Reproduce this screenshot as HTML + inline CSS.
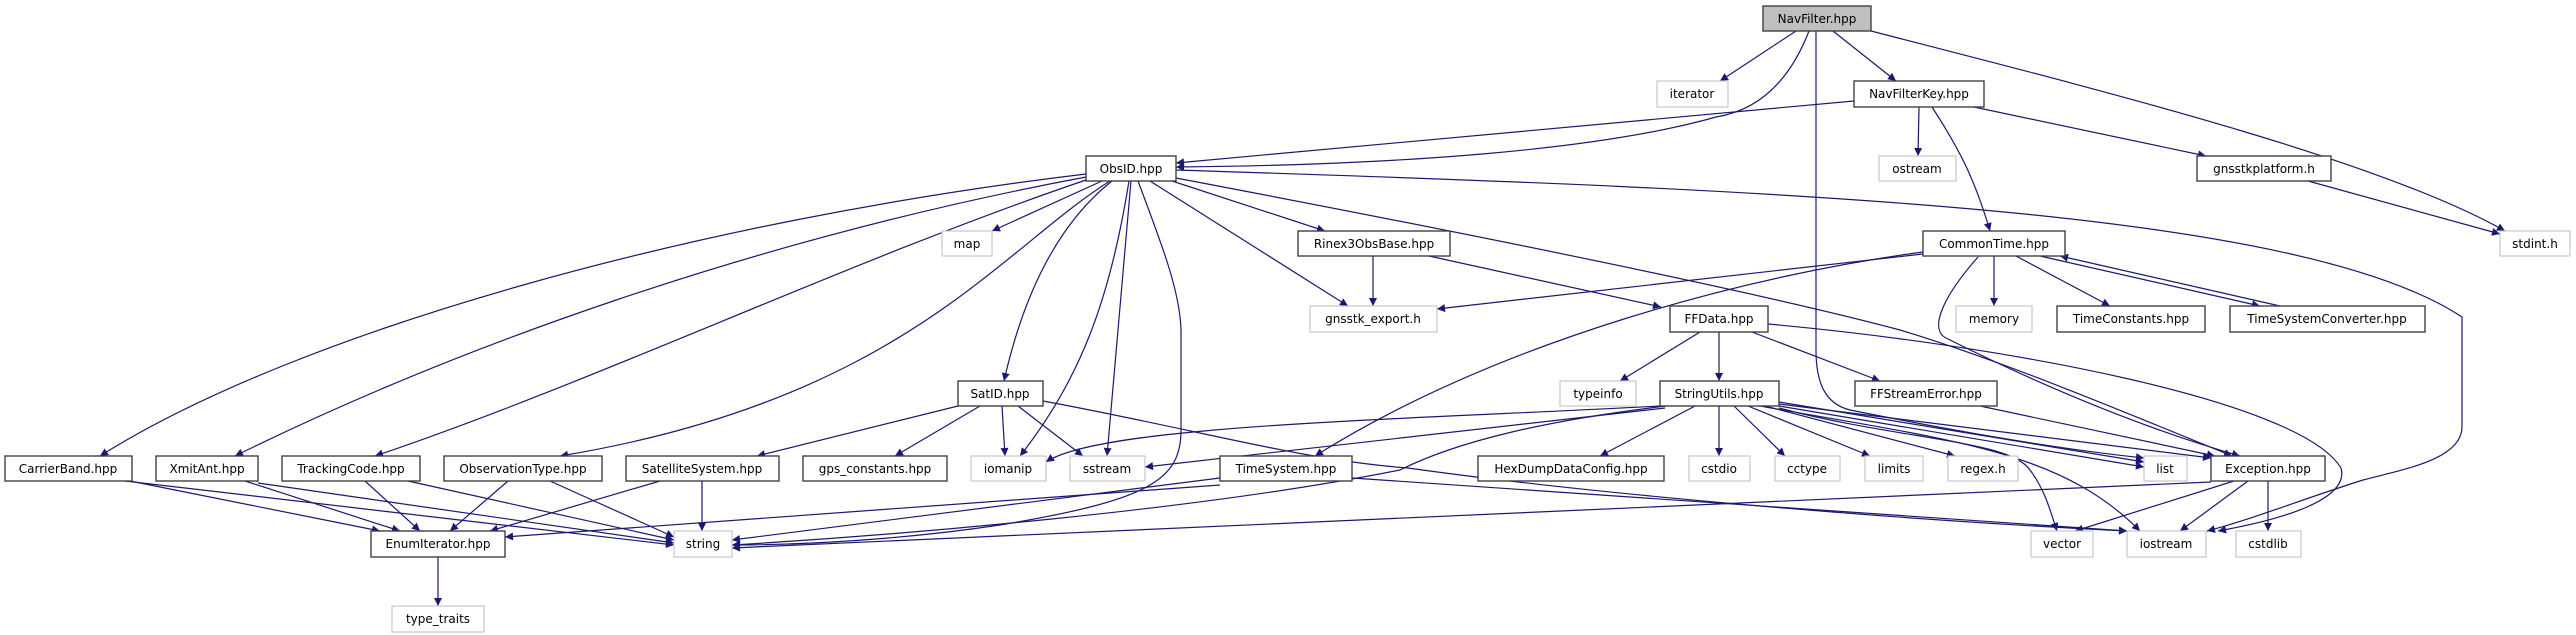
<!DOCTYPE html>
<html><head><meta charset="utf-8"><style>
html,body{margin:0;padding:0;background:#fff;}
svg{display:block;}
text{font-family:"DejaVu Sans","Liberation Sans",sans-serif;font-size:12px;fill:#000;text-anchor:middle;}
.e{fill:none;stroke:#191970;stroke-width:1.2;marker-end:url(#a);}
.n{fill:#fff;stroke:#404040;stroke-width:1.4;}
.g{fill:#fff;stroke:#c8c8c8;stroke-width:1.2;}
</style></head><body>
<svg width="2576" height="635" viewBox="0 0 2576 635" xmlns="http://www.w3.org/2000/svg">
<defs><marker id="a" viewBox="0 0 10 10" refX="10" refY="5" markerWidth="10" markerHeight="8" markerUnits="userSpaceOnUse" orient="auto"><path d="M0,0 L10,5 L0,10 z" fill="#191970"/></marker></defs>
<g>
<path class="e" d="M1796,31 L1720,81"/>
<path class="e" d="M1809,31 C1790,80 1760,110 1716,117 C1600,150 1400,165 1176,167"/>
<path class="e" d="M1833,31 L1896,81"/>
<path class="e" d="M1871,31 C2100,90 2380,160 2505,231"/>
<path class="e" d="M1816,31 L1816,350 C1816,390 1830,405 1850,410 C1950,430 2050,448 2144,458"/>
<path class="e" d="M1919,107 L1918,156"/>
<path class="e" d="M1932,107 C1960,150 1975,180 1990,231"/>
<path class="e" d="M1974,107 L2206,156"/>
<path class="e" d="M1854,101 L1176,163"/>
<path class="e" d="M2308,181 L2500,234"/>
<path class="e" d="M1086,174 C700,220 300,330 100,456"/>
<path class="e" d="M1086,177 C750,240 450,350 235,456"/>
<path class="e" d="M1086,180 C850,260 600,380 375,456"/>
<path class="e" d="M1110,181 C1000,250 900,400 560,456"/>
<path class="e" d="M1102,181 L992,231"/>
<path class="e" d="M1112,181 C1050,230 1020,310 1004,381"/>
<path class="e" d="M1129,181 C1110,300 1080,380 1020,456"/>
<path class="e" d="M1131,181 L1107,456"/>
<path class="e" d="M1138,181 C1160,240 1180,290 1181,330 L1181,430 C1181,480 1150,500 1000,525 C900,540 800,545 732,545"/>
<path class="e" d="M1172,181 L1325,231"/>
<path class="e" d="M1150,181 L1348,306"/>
<path class="e" d="M1176,178 C1450,230 1750,290 1900,330 C2000,360 2120,410 2232,456"/>
<path class="e" d="M1176,170 C1800,190 2300,210 2462,317 L2462,427 C2462,460 2400,470 2363,480 C2300,500 2250,520 2207,531"/>
<path class="e" d="M1373,256 L1373,306"/>
<path class="e" d="M1429,256 L1661,307"/>
<path class="e" d="M1923,254 L1437,309"/>
<path class="e" d="M1923,252 C1750,275 1500,340 1315,456"/>
<path class="e" d="M1994,256 L1994,306"/>
<path class="e" d="M2016,256 L2110,306"/>
<path class="e" d="M2040,256 L2260,306"/>
<path class="e" d="M2280,306 L2060,256"/>
<path class="e" d="M1978,257 C1940,300 1930,330 1946,338 C2050,390 2150,430 2240,456"/>
<path class="e" d="M1700,332 L1620,381"/>
<path class="e" d="M1719,332 L1719,381"/>
<path class="e" d="M1752,332 L1880,381"/>
<path class="e" d="M1768,324 C2000,345 2300,400 2341,468 C2350,500 2280,520 2218,531"/>
<path class="e" d="M1980,406 L2215,456"/>
<path class="e" d="M1719,406 L1719,456"/>
<path class="e" d="M1734,406 L1785,456"/>
<path class="e" d="M1748,406 L1870,456"/>
<path class="e" d="M1765,406 L1955,456"/>
<path class="e" d="M1779,402 L2144,462"/>
<path class="e" d="M1779,406 L2144,467"/>
<path class="e" d="M1779,404 L2211,458"/>
<path class="e" d="M1779,408 C1900,440 2010,440 2030,470 C2045,490 2050,510 2057,531"/>
<path class="e" d="M1760,406 C1950,440 2060,450 2140,531"/>
<path class="e" d="M1695,406 L1600,456"/>
<path class="e" d="M1660,406 C1400,420 1100,425 1046,462"/>
<path class="e" d="M1665,408 L1145,467"/>
<path class="e" d="M1666,406 C1550,420 1460,440 1400,470 C1200,510 900,535 732,545"/>
<path class="e" d="M958,406 L757,456"/>
<path class="e" d="M980,406 L895,456"/>
<path class="e" d="M1002,406 L1005,456"/>
<path class="e" d="M1018,406 L1083,456"/>
<path class="e" d="M1043,401 C1200,430 1300,460 1408,468 C1600,495 1900,520 2127,531"/>
<path class="e" d="M1220,478 L732,540"/>
<path class="e" d="M1220,485 L505,537"/>
<path class="e" d="M1352,478 L2127,531"/>
<path class="e" d="M2211,482 L732,548"/>
<path class="e" d="M2234,481 L2075,531"/>
<path class="e" d="M2248,481 L2180,531"/>
<path class="e" d="M2268,481 L2268,531"/>
<path class="e" d="M130,481 L380,531"/>
<path class="e" d="M125,481 L674,545"/>
<path class="e" d="M245,481 L400,531"/>
<path class="e" d="M258,483 L674,543"/>
<path class="e" d="M365,481 L420,531"/>
<path class="e" d="M408,481 L674,540"/>
<path class="e" d="M508,481 L450,531"/>
<path class="e" d="M550,481 L674,537"/>
<path class="e" d="M660,481 L490,531"/>
<path class="e" d="M702,481 L702,531"/>
<path class="e" d="M438,557 L438,606"/>
</g>
<g>
<rect x="1763" y="6" width="108" height="25" fill="#bfbfbf" stroke="#404040" stroke-width="1.4"/><text x="1817" y="23">NavFilter.hpp</text>
<rect class="g" x="1657" y="81" width="71" height="26"/><text x="1692" y="98">iterator</text>
<rect class="n" x="1854" y="81" width="130" height="26"/><text x="1919" y="98">NavFilterKey.hpp</text>
<rect class="n" x="1086" y="156" width="90" height="25"/><text x="1131" y="173">ObsID.hpp</text>
<rect class="g" x="1879" y="156" width="77" height="25"/><text x="1917" y="173">ostream</text>
<rect class="n" x="2197" y="156" width="134" height="25"/><text x="2264" y="173">gnsstkplatform.h</text>
<rect class="g" x="942" y="231" width="50" height="25"/><text x="967" y="248">map</text>
<rect class="n" x="1298" y="231" width="152" height="25"/><text x="1374" y="248">Rinex3ObsBase.hpp</text>
<rect class="n" x="1923" y="231" width="142" height="25"/><text x="1994" y="248">CommonTime.hpp</text>
<rect class="g" x="2500" y="231" width="70" height="25"/><text x="2535" y="248">stdint.h</text>
<rect class="g" x="1310" y="306" width="127" height="26"/><text x="1373" y="323">gnsstk_export.h</text>
<rect class="n" x="1670" y="306" width="98" height="26"/><text x="1719" y="323">FFData.hpp</text>
<rect class="g" x="1956" y="306" width="76" height="26"/><text x="1994" y="323">memory</text>
<rect class="n" x="2057" y="306" width="148" height="26"/><text x="2131" y="323">TimeConstants.hpp</text>
<rect class="n" x="2230" y="306" width="195" height="26"/><text x="2327" y="323">TimeSystemConverter.hpp</text>
<rect class="n" x="958" y="381" width="85" height="25"/><text x="1000" y="398">SatID.hpp</text>
<rect class="g" x="1560" y="381" width="76" height="25"/><text x="1598" y="398">typeinfo</text>
<rect class="n" x="1660" y="381" width="119" height="25"/><text x="1719" y="398">StringUtils.hpp</text>
<rect class="n" x="1855" y="381" width="142" height="25"/><text x="1926" y="398">FFStreamError.hpp</text>
<rect class="n" x="5" y="456" width="127" height="25"/><text x="68" y="473">CarrierBand.hpp</text>
<rect class="n" x="156" y="456" width="102" height="25"/><text x="207" y="473">XmitAnt.hpp</text>
<rect class="n" x="282" y="456" width="138" height="25"/><text x="351" y="473">TrackingCode.hpp</text>
<rect class="n" x="444" y="456" width="158" height="25"/><text x="523" y="473">ObservationType.hpp</text>
<rect class="n" x="626" y="456" width="153" height="25"/><text x="702" y="473">SatelliteSystem.hpp</text>
<rect class="n" x="803" y="456" width="144" height="25"/><text x="875" y="473">gps_constants.hpp</text>
<rect class="g" x="971" y="456" width="75" height="25"/><text x="1008" y="473">iomanip</text>
<rect class="g" x="1070" y="456" width="75" height="25"/><text x="1107" y="473">sstream</text>
<rect class="n" x="1220" y="456" width="132" height="25"/><text x="1286" y="473">TimeSystem.hpp</text>
<rect class="n" x="1478" y="456" width="186" height="25"/><text x="1571" y="473">HexDumpDataConfig.hpp</text>
<rect class="g" x="1689" y="456" width="61" height="25"/><text x="1719" y="473">cstdio</text>
<rect class="g" x="1775" y="456" width="65" height="25"/><text x="1807" y="473">cctype</text>
<rect class="g" x="1865" y="456" width="58" height="25"/><text x="1894" y="473">limits</text>
<rect class="g" x="1948" y="456" width="70" height="25"/><text x="1983" y="473">regex.h</text>
<rect class="g" x="2144" y="456" width="43" height="25"/><text x="2165" y="473">list</text>
<rect class="n" x="2211" y="456" width="114" height="25"/><text x="2268" y="473">Exception.hpp</text>
<rect class="n" x="371" y="531" width="134" height="26"/><text x="438" y="548">EnumIterator.hpp</text>
<rect class="g" x="674" y="531" width="58" height="26"/><text x="703" y="548">string</text>
<rect class="g" x="2031" y="531" width="62" height="26"/><text x="2062" y="548">vector</text>
<rect class="g" x="2127" y="531" width="79" height="26"/><text x="2166" y="548">iostream</text>
<rect class="g" x="2236" y="531" width="65" height="26"/><text x="2268" y="548">cstdlib</text>
<rect class="g" x="392" y="606" width="92" height="26"/><text x="438" y="623">type_traits</text>
</g>
</svg>
</body></html>
